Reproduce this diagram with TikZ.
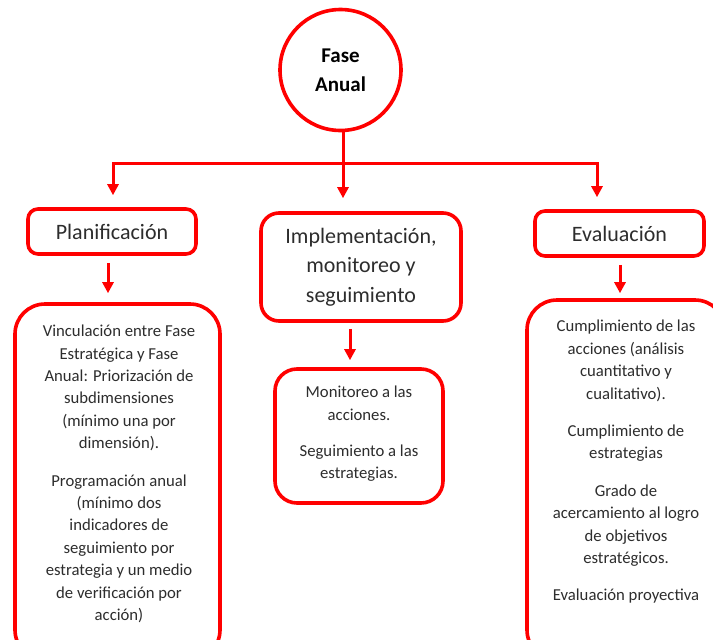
\documentclass[tikz,border=0pt]{standalone}
\usepackage{fontspec}
\setmainfont{Carlito}
\usetikzlibrary{arrows.meta,calc}
\definecolor{rojo}{RGB}{255,0,0}
\definecolor{txt}{RGB}{45,45,45}
\begin{document}
\begin{tikzpicture}[x=1pt,y=-1pt,
  box/.style={draw=rojo, line width=3.6pt, rectangle, inner sep=0pt},
  head/.style={box, text=txt, font=\fontsize{22}{29.5}\selectfont, align=center},
  body/.style={text=txt, font=\fontsize{16.7}{22.4}\selectfont, align=center, inner sep=0pt},
  conn/.style={draw=rojo, line width=3pt},
  arr/.style={conn, -{Triangle[width=11pt,length=11pt]}},
]
\path[use as bounding box, fill=white] (0,0) rectangle (713,640);

\node[circle, draw=rojo, line width=3.6pt, minimum size=121pt, inner sep=0pt,
      font=\bfseries\fontsize{21}{29}\selectfont, align=center, text=black] (fase) at (340.5,70) {Fase\\Anual};

\node[head, minimum width=168pt, minimum height=45pt, rounded corners=10pt] (plan) at (112,231.5) {Planificación};
\node[head, minimum width=200pt, minimum height=108pt, rounded corners=18pt] (impl) at (361,267) {Implementación,\\monitoreo y\\seguimiento};
\node[head, minimum width=169pt, minimum height=45pt, rounded corners=10pt] (eval) at (619.5,233.5) {Evaluación};

\node[box, minimum width=205pt, minimum height=356pt, rounded corners=30pt] (pbox) at (117.5,482) {};
\node[box, minimum width=168pt, minimum height=134pt, rounded corners=22pt] (ibox) at (359,436) {};
\node[box, minimum width=198pt, minimum height=360pt, rounded corners=30pt] (ebox) at (626,480) {};

\node[body] (ptxt) at (119,474) {Vinculación entre Fase\\Estratégica y Fase\\Anual: Priorización de\\subdimensiones\\(mínimo una por\\dimensión).\\[15pt]Programación anual\\(mínimo dos\\indicadores de\\seguimiento por\\estrategia y un medio\\de verificación por\\acción)};
\node[body] (itxt) at (359,434) {Monitoreo a las\\acciones.\\[14pt]Seguimiento a las\\estrategias.};
\node[body] (etxt) at (626,462) {Cumplimiento de las\\acciones (análisis\\cuantitativo y\\cualitativo).\\[15pt]Cumplimiento de\\estrategias\\[15pt]Grado de\\acercamiento al logro\\de objetivos\\estratégicos.\\[15pt]Evaluación proyectiva};

\coordinate (j) at (343,163);
\draw[conn] (j |- fase.south) -- (j);
\draw[arr, shorten >=12pt] (j) -| ([xshift=1pt]plan.north);
\draw[arr, shorten >=13pt] (j) -- (j |- impl.north);
\draw[arr, shorten >=12pt] (j) -| ([xshift=-22.5pt]eval.north);

\draw[arr, shorten <=7pt, shorten >=9pt] ([xshift=-4pt]plan.south) -- ([xshift=-4pt]plan.south |- pbox.north);
\draw[arr, shorten <=6pt, shorten >=7pt] ([xshift=-11pt]impl.south) -- ([xshift=-11pt]impl.south |- ibox.north);
\draw[arr, shorten <=7pt, shorten >=5pt] ([xshift=0.5pt]eval.south) -- ([xshift=0.5pt]eval.south |- ebox.north);
\end{tikzpicture}
\end{document}
